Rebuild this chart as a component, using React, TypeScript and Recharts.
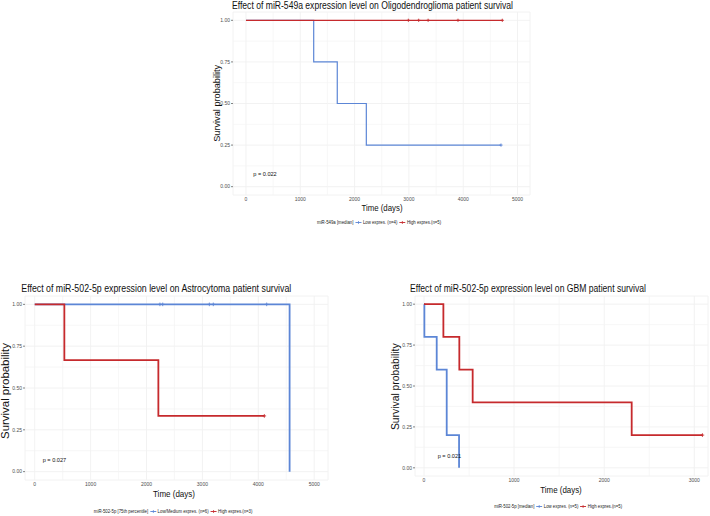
import React from 'react';
import {
  CartesianGrid,
  ComposedChart,
  Legend,
  Line,
  ReferenceDot,
  ReferenceLine,
  Scatter,
  XAxis,
  YAxis,
} from 'recharts';

type Pt = { t: number; s: number };

const BLUE = '#5C86D6';
const RED = '#C62A2D';
const FONT = '"Liberation Sans", Arial, Helvetica, sans-serif';
const SQUEEZE = 0.86;

// Oligodendroglioma, miR-549a split at the median
const oligoLow: Pt[] = [
  { t: 0, s: 1 },
  { t: 1247, s: 0.75 },
  { t: 1681, s: 0.5 },
  { t: 2216, s: 0.25 },
  { t: 4696, s: 0.25 },
];
const oligoHigh: Pt[] = [
  { t: 0, s: 1 },
  { t: 4720, s: 1 },
];
const oligoLowCensored: Pt[] = [{ t: 4696, s: 0.25 }];
const oligoHighCensored: Pt[] = [
  { t: 2990, s: 1 },
  { t: 3180, s: 1 },
  { t: 3354, s: 1 },
  { t: 3904, s: 1 },
  { t: 4720, s: 1 },
];

// Astrocytoma, miR-502-5p split at the 75th percentile
const astroLow: Pt[] = [
  { t: 0, s: 1 },
  { t: 4560, s: 0 },
];
const astroHigh: Pt[] = [
  { t: 0, s: 1 },
  { t: 530, s: 0.667 },
  { t: 2212, s: 0.333 },
  { t: 4108, s: 0.333 },
];
const astroLowCensored: Pt[] = [
  { t: 2240, s: 1 },
  { t: 2290, s: 1 },
  { t: 3124, s: 1 },
  { t: 3195, s: 1 },
  { t: 4150, s: 1 },
];
const astroHighCensored: Pt[] = [{ t: 4108, s: 0.333 }];

// GBM, miR-502-5p split at the median
const gbmLow: Pt[] = [
  { t: 0, s: 1 },
  { t: 4, s: 0.8 },
  { t: 141, s: 0.6 },
  { t: 252, s: 0.2 },
  { t: 389, s: 0 },
];
const gbmHigh: Pt[] = [
  { t: 0, s: 1 },
  { t: 215, s: 0.8 },
  { t: 392, s: 0.6 },
  { t: 540, s: 0.4 },
  { t: 2305, s: 0.2 },
  { t: 3090, s: 0.2 },
];
const gbmLowCensored: Pt[] = [];
const gbmHighCensored: Pt[] = [{ t: 3090, s: 0.2 }];

const yTicks = [0, 0.25, 0.5, 0.75, 1];
const yMinor = [0.125, 0.375, 0.625, 0.875];
const xTicks5k = [0, 1000, 2000, 3000, 4000, 5000];
const xMinor5k = [500, 1500, 2500, 3500, 4500];
const xTicks3k = [0, 1000, 2000, 3000];
const xMinor3k = [500, 1500, 2500];

const censorShape = (color: string, size: number) => (p: any) => (
  <path
    d={`M${p.cx - size},${p.cy}h${size * 2}M${p.cx},${p.cy - size}v${size * 2}`}
    stroke={color}
    strokeWidth={0.9}
    fill="none"
  />
);

const LegendBox = ({ title, payload, order }: { title: string; payload?: any[]; order: string[] }) => {
  const items = (payload || [])
    .filter((item) => item.type !== 'none' && order.includes(item.value))
    .sort((a, b) => order.indexOf(a.value) - order.indexOf(b.value));
  return (
    <div
      style={{
        display: 'flex',
        justifyContent: 'center',
        alignItems: 'center',
        fontFamily: FONT,
        fontSize: 5,
        lineHeight: '6px',
        color: '#222',
        whiteSpace: 'nowrap',
        transform: `scaleX(${SQUEEZE})`,
      }}
    >
      <span style={{ marginRight: 2 }}>{title}</span>
      {items.map((item) => (
        <span key={item.value} style={{ display: 'flex', alignItems: 'center', marginRight: 2 }}>
          <svg width={8} height={5} style={{ marginRight: 1 }}>
            <line x1={0.5} y1={2.5} x2={7.5} y2={2.5} stroke={item.color} strokeWidth={1} />
            <line x1={4} y1={1} x2={4} y2={4} stroke={item.color} strokeWidth={0.8} />
          </svg>
          {item.value}
        </span>
      ))}
    </div>
  );
};

interface PanelProps {
  left: number;
  top: number;
  width: number;
  height: number;
  margin: { top: number; right: number; bottom: number; left: number };
  yAxisWidth: number;
  xDomain: [number, number];
  xTicks: number[];
  xMinor: number[];
  low: Pt[];
  high: Pt[];
  lowCens: Pt[];
  highCens: Pt[];
  lowName: string;
  highName: string;
  legendTitle: string;
  legendPos: { left: number; top: number };
  pval: { t: number; s: number; text: string };
  strokeWidth: number;
  censorSize: number;
}

const SurvivalPanel = (p: PanelProps) => (
  <div style={{ position: 'absolute', left: p.left, top: p.top }}>
    <ComposedChart width={p.width} height={p.height} margin={p.margin}>
      <CartesianGrid stroke="#F0F0F0" strokeWidth={0.9} />
      {p.xMinor.map((v) => (
        <ReferenceLine key={`x${v}`} x={v} stroke="#F4F4F4" strokeWidth={0.7} />
      ))}
      {yMinor.map((v) => (
        <ReferenceLine key={`y${v}`} y={v} stroke="#F4F4F4" strokeWidth={0.7} />
      ))}
      <XAxis
        type="number"
        dataKey="t"
        domain={p.xDomain}
        ticks={p.xTicks}
        interval={0}
        allowDataOverflow
        axisLine={false}
        tickLine={false}
        tickSize={0}
        tickMargin={2}
        height={8}
        tick={{ fontSize: 5, fill: '#4D4D4D', fontFamily: FONT }}
      />
      <YAxis
        type="number"
        dataKey="s"
        domain={[-0.05, 1.05]}
        ticks={yTicks}
        interval={0}
        allowDataOverflow
        width={p.yAxisWidth}
        axisLine={false}
        tickLine={{ stroke: '#333', strokeWidth: 0.6 }}
        tickSize={2}
        tickMargin={1}
        tickFormatter={(v: number) => v.toFixed(2)}
        tick={{ fontSize: 5, fill: '#4D4D4D', fontFamily: FONT }}
      />
      <Line
        data={p.low}
        dataKey="s"
        name={p.lowName}
        type="stepAfter"
        stroke={BLUE}
        strokeWidth={p.strokeWidth}
        dot={false}
        activeDot={false}
        isAnimationActive={false}
      />
      <Line
        data={p.high}
        dataKey="s"
        name={p.highName}
        type="stepAfter"
        stroke={RED}
        strokeWidth={p.strokeWidth}
        dot={false}
        activeDot={false}
        isAnimationActive={false}
      />
      <Scatter
        data={p.lowCens}
        dataKey="s"
        legendType="none"
        shape={censorShape(BLUE, p.censorSize)}
        isAnimationActive={false}
      />
      <Scatter
        data={p.highCens}
        dataKey="s"
        legendType="none"
        shape={censorShape(RED, p.censorSize)}
        isAnimationActive={false}
      />
      <ReferenceDot
        x={p.pval.t}
        y={p.pval.s}
        r={0}
        stroke="none"
        label={{ value: p.pval.text, position: 'right', offset: 0, fontSize: 5.6, fill: '#111', fontFamily: FONT }}
      />
      <Legend
        layout="horizontal"
        verticalAlign="middle"
        align="center"
        width={200}
        wrapperStyle={{ left: p.legendPos.left, top: p.legendPos.top, width: 200 }}
        content={(props: any) => (
          <LegendBox title={p.legendTitle} payload={props.payload} order={[p.lowName, p.highName]} />
        )}
      />
    </ComposedChart>
  </div>
);

const Txt = ({ x, y, size, len, rotate, children }: any) => (
  <text
    x={x}
    y={y}
    fontSize={size}
    textAnchor="middle"
    textLength={len}
    lengthAdjust="spacingAndGlyphs"
    fill="#111"
    fontFamily={FONT}
    transform={rotate ? `rotate(-90 ${x} ${y})` : undefined}
  >
    {children}
  </text>
);

export default function App() {
  return (
    <div style={{ position: 'absolute', left: 0, top: 0, width: 710, height: 516, background: '#fff', overflow: 'hidden' }}>
      <SurvivalPanel
        left={200}
        top={0}
        width={340}
        height={230}
        margin={{ top: 12, right: 10, bottom: 27, left: 0 }}
        yAxisWidth={33}
        xDomain={[-239, 5230]}
        xTicks={xTicks5k}
        xMinor={xMinor5k}
        low={oligoLow}
        high={oligoHigh}
        lowCens={oligoLowCensored}
        highCens={oligoHighCensored}
        lowName="Low expres. (n=4)"
        highName="High expres.(n=5)"
        legendTitle="miR-549a [median]"
        legendPos={{ left: 80, top: 219 }}
        pval={{ t: 134, s: 0.074, text: 'p = 0.022' }}
        strokeWidth={1.2}
        censorSize={1.6}
      />
      <SurvivalPanel
        left={0}
        top={290}
        width={340}
        height={226}
        margin={{ top: 6, right: 12, bottom: 28, left: 0 }}
        yAxisWidth={25}
        xDomain={[-174, 5247]}
        xTicks={xTicks5k}
        xMinor={xMinor5k}
        low={astroLow}
        high={astroHigh}
        lowCens={astroLowCensored}
        highCens={astroHighCensored}
        lowName="Low/Medium expres. (n=6)"
        highName="High expres.(n=3)"
        legendTitle="miR-502-5p [75th percentile]"
        legendPos={{ left: 74, top: 218 }}
        pval={{ t: 143, s: 0.07, text: 'p = 0.027' }}
        strokeWidth={1.8}
        censorSize={1.8}
      />
      <SurvivalPanel
        left={360}
        top={290}
        width={350}
        height={226}
        margin={{ top: 6, right: 2, bottom: 32, left: 0 }}
        yAxisWidth={55}
        xDomain={[-100, 3152]}
        xTicks={xTicks3k}
        xMinor={xMinor3k}
        low={gbmLow}
        high={gbmHigh}
        lowCens={gbmLowCensored}
        highCens={gbmHighCensored}
        lowName="Low expres. (n=5)"
        highName="High expres.(n=5)"
        legendTitle="miR-502-5p [median]"
        legendPos={{ left: 99, top: 213 }}
        pval={{ t: 152, s: 0.071, text: 'p = 0.021' }}
        strokeWidth={1.8}
        censorSize={1.8}
      />
      <svg width={710} height={516} style={{ position: 'absolute', left: 0, top: 0, pointerEvents: 'none' }}>
        <Txt x={372.5} y={9} size={10} len={281}>
          Effect of miR-549a expression level on Oligodendroglioma patient survival
        </Txt>
        <Txt x={382} y={210.5} size={9.5} len={41}>
          Time (days)
        </Txt>
        <Txt x={220.5} y={103.3} size={9.2} len={77} rotate>
          Survival probability
        </Txt>

        <Txt x={156.3} y={291.7} size={10} len={270}>
          Effect of miR-502-5p expression level on Astrocytoma patient survival
        </Txt>
        <Txt x={174} y={496.5} size={9.8} len={42}>
          Time (days)
        </Txt>
        <Txt x={9} y={391} size={10.5} len={96} rotate>
          Survival probability
        </Txt>

        <Txt x={528} y={292} size={10} len={236}>
          Effect of miR-502-5p expression level on GBM patient survival
        </Txt>
        <Txt x={561} y={492.5} size={9.5} len={41.5}>
          Time (days)
        </Txt>
        <Txt x={399} y={386.7} size={10.3} len={86.7} rotate>
          Survival probability
        </Txt>
      </svg>
    </div>
  );
}
